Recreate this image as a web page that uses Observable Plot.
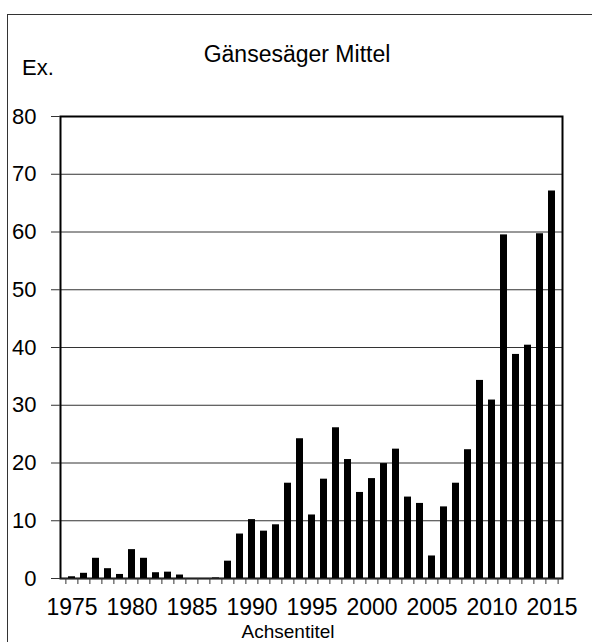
<!DOCTYPE html>
<html>
<head>
<meta charset="utf-8">
<script src="https://cdn.jsdelivr.net/npm/d3@7"></script>
<script src="https://cdn.jsdelivr.net/npm/@observablehq/plot@0.6"></script>
<style>
  html, body { margin: 0; padding: 0; background: #fff; overflow: hidden; }
  #wrap { position: relative; width: 592px; height: 642px; overflow: hidden; font-family: "Liberation Sans", Arial, sans-serif; color: #000; }
  #border { position: absolute; left: 7px; top: 14px; width: 700px; height: 700px; border-left: 1px solid #333; border-top: 1px solid #333; }
  .lbl { position: absolute; line-height: 1; white-space: nowrap; }
  #chart { position: absolute; left: 0; top: 0; }
</style>
</head>
<body>
<div id="wrap">
  <div id="border"></div>
  <div id="chart"></div>
  <div class="lbl" id="title" style="left:297px; top:43px; font-size:23px; transform:translateX(-50%);">Gänsesäger Mittel</div>
  <div class="lbl" id="ylab" style="left:22px; top:57px; font-size:22px;">Ex.</div>
  <div class="lbl" id="xlab" style="left:288px; top:622px; font-size:19px; transform:translateX(-50%);">Achsentitel</div>
</div>
<script>
const years = [1975,1976,1977,1978,1979,1980,1981,1982,1983,1984,
               1985,1986,1987,1988,1989,1990,1991,1992,1993,1994,
               1995,1996,1997,1998,1999,2000,2001,2002,2003,2004,
               2005,2006,2007,2008,2009,2010,2011,2012,2013,2014,2015];
const values = [0.3,0.9,3.5,1.7,0.7,5.0,3.5,1.0,1.1,0.6,
                0,0,0.1,3.0,7.7,10.2,8.2,9.3,16.5,24.2,
                11.0,17.2,26.1,20.6,14.9,17.3,19.9,22.4,14.1,13.0,
                3.9,12.4,16.5,22.3,34.3,30.9,59.5,38.8,40.4,59.7,67.1];
const yTicks = [0,10,20,30,40,50,60,70,80];
const xLabelYears = [1975,1980,1985,1990,1995,2000,2005,2010,2015];

const data = years.map((y, i) => ({year: y, value: values[i]}));

const W = 592, H = 642, mL = 60, mR = 30, mT = 116, mB = 64;
const step = (W - mL - mR) / years.length;

const chart = Plot.plot({
  width: W, height: H,
  marginTop: mT, marginBottom: mB, marginLeft: mL, marginRight: mR,
  style: { fontFamily: "'Liberation Sans', Arial, sans-serif", fontSize: "22px", color: "#000", background: "transparent", overflow: "visible" },
  x: { type: "band", domain: years, paddingInner: 0.45, paddingOuter: 0.225, axis: null, label: null },
  y: { domain: [0, 80], axis: null, label: null },
  marks: [
    Plot.gridY(yTicks.filter(t => t > 0 && t < 80), { stroke: "#333", strokeOpacity: 1, strokeWidth: 1 }),
    Plot.barY(data, { x: "year", y: "value", fill: "#000" }),
    Plot.frame({ stroke: "#000", strokeWidth: 2 }),
    Plot.ruleY([0], { stroke: "#222", strokeWidth: 1 }),
    Plot.axisY({ ticks: yTicks, tickSize: 9, tickPadding: 15, label: null, stroke: "#333", fontSize: 22 }),
    Plot.axisX({ ticks: years, tickSize: 6, tickFormat: () => "", dx: -step / 2, label: null, stroke: "#333" }),
    Plot.axisX({ ticks: [years[years.length - 1]], tickSize: 6, tickFormat: () => "", dx: step / 2, label: null, stroke: "#333" }),
    Plot.axisX({ ticks: xLabelYears, tickSize: 0, tickPadding: 20, tickFormat: d => String(d), label: null, fontSize: 23 })
  ]
});
document.getElementById("chart").appendChild(chart);
</script>
</body>
</html>
